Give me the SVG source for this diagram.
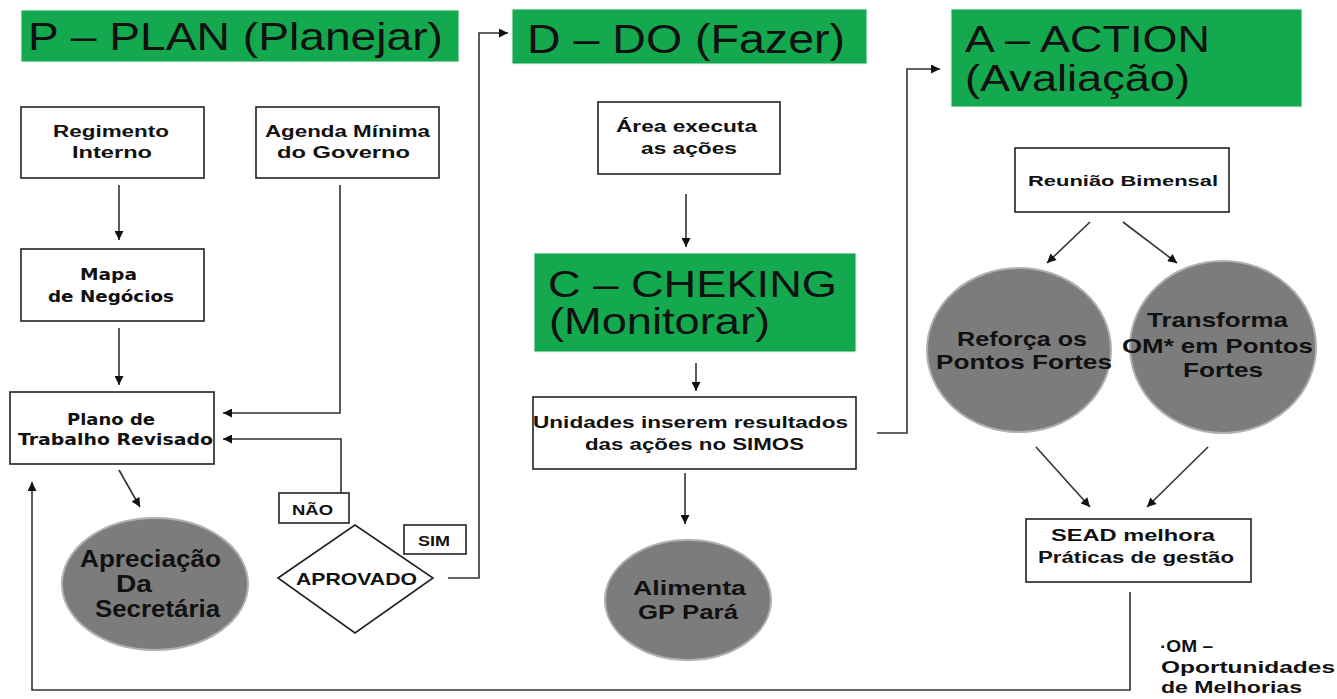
<svg xmlns="http://www.w3.org/2000/svg" width="1337" height="699" viewBox="0 0 1337 699">
<defs>
<style>
.title{font-family:"Liberation Sans",Arial,sans-serif;fill:#111;}
.bx{fill:#fff;stroke:#222;stroke-width:1.6;}
.green{fill:#14a84f;stroke:#e8f5ec;stroke-width:1;}
.t{font-family:"Liberation Sans",Arial,sans-serif;font-weight:bold;fill:#111;}
.c{font-family:"DejaVu Sans","Liberation Sans",sans-serif;font-weight:bold;fill:#111;}
.ell{fill:#7c7c7c;stroke:#b0b0b0;stroke-width:2;}
.ln{fill:none;stroke:#333;stroke-width:1.6;}
</style>
<marker id="ah" viewBox="0 0 10 10" refX="10" refY="5" markerUnits="userSpaceOnUse" markerWidth="10" markerHeight="9" orient="auto">
<path d="M0,0 L10,5 L0,10 z" fill="#111"/>
</marker>
</defs>
<rect width="1337" height="699" fill="#fff"/>

<g id="connectors">
<line class="ln" x1="119" y1="185" x2="119" y2="240" marker-end="url(#ah)"/>
<line class="ln" x1="119" y1="328" x2="119" y2="385" marker-end="url(#ah)"/>
<path class="ln" d="M340,185 V413 H223" marker-end="url(#ah)"/>
<path class="ln" d="M341,493 V439 H223" marker-end="url(#ah)"/>
<line class="ln" x1="119" y1="470" x2="140" y2="507" marker-end="url(#ah)"/>
<path class="ln" d="M448,578 H479 V33 H508" marker-end="url(#ah)"/>
<line class="ln" x1="686" y1="194" x2="686" y2="247" marker-end="url(#ah)"/>
<line class="ln" x1="696" y1="363" x2="696" y2="391" marker-end="url(#ah)"/>
<path class="ln" d="M877,433 H907 V69 H940" marker-end="url(#ah)"/>
<line class="ln" x1="685" y1="473" x2="685" y2="524" marker-end="url(#ah)"/>
<line class="ln" x1="1090" y1="222" x2="1047" y2="263" marker-end="url(#ah)"/>
<line class="ln" x1="1123" y1="222" x2="1177" y2="263" marker-end="url(#ah)"/>
<line class="ln" x1="1036" y1="447" x2="1090" y2="507" marker-end="url(#ah)"/>
<line class="ln" x1="1208" y1="447" x2="1147" y2="507" marker-end="url(#ah)"/>
<path class="ln" d="M1130,592 V690 H32 V482" marker-end="url(#ah)"/>
</g>

<g id="plan-title">
<rect class="green" x="21" y="10" width="438" height="52"/>
<text class="title" x="28" y="50" font-size="39" textLength="415" lengthAdjust="spacingAndGlyphs">P – PLAN (Planejar)</text>
</g>
<g id="regimento">
<rect class="bx" x="21" y="107" width="183" height="71"/>
<text class="t" x="53" y="137" font-size="16" textLength="116" lengthAdjust="spacingAndGlyphs">Regimento</text>
<text class="t" x="72" y="158" font-size="16" textLength="80" lengthAdjust="spacingAndGlyphs">Interno</text>
</g>
<g id="agenda">
<rect class="bx" x="256" y="107" width="183" height="71"/>
<text class="t" x="265" y="137" font-size="16" textLength="165" lengthAdjust="spacingAndGlyphs">Agenda Mínima</text>
<text class="t" x="277" y="158" font-size="16" textLength="133" lengthAdjust="spacingAndGlyphs">do Governo</text>
</g>
<g id="mapa">
<rect class="bx" x="21" y="249" width="183" height="72"/>
<text class="c" x="80" y="280" font-size="15" textLength="57" lengthAdjust="spacingAndGlyphs">Mapa</text>
<text class="c" x="48" y="302" font-size="15" textLength="126" lengthAdjust="spacingAndGlyphs">de Negócios</text>
</g>
<g id="plano">
<rect class="bx" x="10" y="392" width="204" height="72"/>
<text class="c" x="67" y="425" font-size="15" textLength="88" lengthAdjust="spacingAndGlyphs">Plano de</text>
<text class="c" x="18" y="445" font-size="15" textLength="195" lengthAdjust="spacingAndGlyphs">Trabalho Revisado</text>
</g>
<g id="apreciacao">
<ellipse class="ell" cx="155" cy="584" rx="93" ry="66"/>
<text class="t" x="80" y="567" font-size="23" textLength="141" lengthAdjust="spacingAndGlyphs">Apreciação</text>
<text class="t" x="116" y="592" font-size="23" textLength="36" lengthAdjust="spacingAndGlyphs">Da</text>
<text class="t" x="95" y="617" font-size="23" textLength="125" lengthAdjust="spacingAndGlyphs">Secretária</text>
</g>
<g id="nao">
<rect class="bx" x="279" y="493" width="70" height="30"/>
<text class="t" x="292" y="515" font-size="14" textLength="41" lengthAdjust="spacingAndGlyphs">NÃO</text>
</g>
<g id="sim">
<rect class="bx" x="404" y="525" width="62" height="29"/>
<text class="t" x="418" y="546" font-size="14" textLength="32" lengthAdjust="spacingAndGlyphs">SIM</text>
</g>
<g id="aprovado">
<polygon class="bx" points="278,578 355,525 433,578 355,633"/>
<text class="t" x="296" y="585" font-size="17" textLength="121" lengthAdjust="spacingAndGlyphs">APROVADO</text>
</g>

<g id="do-title">
<rect class="green" x="512" y="9" width="355" height="55"/>
<text class="title" x="527" y="53" font-size="40" textLength="318" lengthAdjust="spacingAndGlyphs">D – DO (Fazer)</text>
</g>
<g id="area">
<rect class="bx" x="598" y="102" width="182" height="72"/>
<text class="t" x="616" y="132" font-size="16" textLength="141" lengthAdjust="spacingAndGlyphs">Área executa</text>
<text class="t" x="641" y="154" font-size="16" textLength="96" lengthAdjust="spacingAndGlyphs">as ações</text>
</g>
<g id="check-title">
<rect class="green" x="534" y="253" width="322" height="99"/>
<text class="title" x="548" y="297" font-size="36" textLength="289" lengthAdjust="spacingAndGlyphs">C – CHEKING</text>
<text class="title" x="549" y="334" font-size="36" textLength="221" lengthAdjust="spacingAndGlyphs">(Monitorar)</text>
</g>
<g id="unidades">
<rect class="bx" x="533" y="397" width="323" height="72"/>
<text class="t" x="533" y="428" font-size="16" textLength="315" lengthAdjust="spacingAndGlyphs">Unidades inserem resultados</text>
<text class="t" x="585" y="450" font-size="16" textLength="219" lengthAdjust="spacingAndGlyphs">das ações no SIMOS</text>
</g>
<g id="alimenta">
<ellipse class="ell" cx="688" cy="600" rx="83" ry="60"/>
<text class="t" x="633" y="595" font-size="20" textLength="113" lengthAdjust="spacingAndGlyphs">Alimenta</text>
<text class="t" x="638" y="619" font-size="20" textLength="100" lengthAdjust="spacingAndGlyphs">GP Pará</text>
</g>

<g id="action-title">
<rect class="green" x="951" y="9" width="351" height="98"/>
<text class="title" x="965" y="52" font-size="36" textLength="245" lengthAdjust="spacingAndGlyphs">A – ACTION</text>
<text class="title" x="965" y="91" font-size="36" textLength="225" lengthAdjust="spacingAndGlyphs">(Avaliação)</text>
</g>
<g id="reuniao">
<rect class="bx" x="1015" y="148" width="214" height="64"/>
<text class="t" x="1028" y="186" font-size="15" textLength="190" lengthAdjust="spacingAndGlyphs">Reunião Bimensal</text>
</g>
<g id="reforca">
<ellipse class="ell" cx="1019" cy="350" rx="92" ry="82"/>
<text class="t" x="957" y="346" font-size="21" textLength="130" lengthAdjust="spacingAndGlyphs">Reforça os</text>
<text class="t" x="936" y="369" font-size="21" textLength="176" lengthAdjust="spacingAndGlyphs">Pontos Fortes</text>
</g>
<g id="transforma">
<ellipse class="ell" cx="1223" cy="347" rx="93" ry="86"/>
<text class="t" x="1147" y="327" font-size="21" textLength="141" lengthAdjust="spacingAndGlyphs">Transforma</text>
<text class="t" x="1122" y="353" font-size="21" textLength="191" lengthAdjust="spacingAndGlyphs">OM* em Pontos</text>
<text class="t" x="1183" y="377" font-size="21" textLength="80" lengthAdjust="spacingAndGlyphs">Fortes</text>
</g>
<g id="sead">
<rect class="bx" x="1026" y="519" width="225" height="63"/>
<text class="t" x="1051" y="541" font-size="16" textLength="164" lengthAdjust="spacingAndGlyphs">SEAD melhora</text>
<text class="t" x="1038" y="563" font-size="16" textLength="196" lengthAdjust="spacingAndGlyphs">Práticas de gestão</text>
</g>
<g id="nota">
<text class="t" x="1160" y="652" font-size="16" textLength="53" lengthAdjust="spacingAndGlyphs">·OM –</text>
<text class="t" x="1161" y="673" font-size="16" textLength="174" lengthAdjust="spacingAndGlyphs">Oportunidades</text>
<text class="t" x="1161" y="693" font-size="16" textLength="141" lengthAdjust="spacingAndGlyphs">de Melhorias</text>
</g>
</svg>
